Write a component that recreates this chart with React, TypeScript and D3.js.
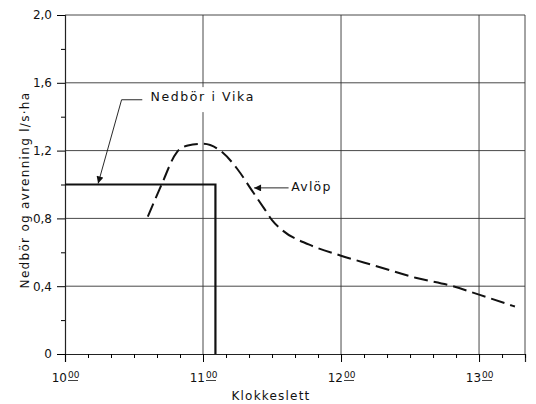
import React, { useEffect, useRef } from 'react';
import * as d3 from 'd3';

// hours (decimal) on the x axis
const hourTicks = [10, 11, 12, 13];
const minorHourTicks = d3.range(10, 13.34, 1 / 6);
const valueTicks = [0, 0.4, 0.8, 1.2, 1.6, 2.0];
const minorValueTicks = [0.2, 0.6, 1.0, 1.4, 1.8];

// precipitation (Nedbør i Vika), step series: 1.0 until 11:05, then 0
const rainTime = [10, 11.09, 11.09];
const rainValue = [1.0, 1.0, 0];

// runoff (Avløp), dashed curve
const runoffTime = [10.6, 10.7, 10.81, 10.89, 11.0, 11.14, 11.25, 11.35, 11.45, 11.5, 11.575, 11.77, 12.0, 12.25, 12.54, 12.81, 13.0, 13.26];
const runoffValue = [0.81, 1.0, 1.19, 1.23, 1.24, 1.19, 1.09, 0.97, 0.85, 0.79, 0.73, 0.645, 0.58, 0.52, 0.45, 0.4, 0.35, 0.28];

const FONT = 'DejaVu Sans, sans-serif';

const App = () => {
  const svgRef = useRef<SVGSVGElement>(null);

  useEffect(() => {
    const svg = d3.select(svgRef.current);
    svg.selectAll('*').remove();

    const x = d3.scaleLinear().domain([10, 13.333]).range([65, 525]);
    const y = d3.scaleLinear().domain([0, 2]).range([354, 15]);

    svg.append('rect').attr('width', 536).attr('height', 404).attr('fill', '#fff');

    // arrow marker
    svg.append('defs').append('marker')
      .attr('id', 'arrow')
      .attr('viewBox', '0 0 10 10')
      .attr('refX', 10).attr('refY', 5)
      .attr('markerWidth', 9).attr('markerHeight', 7)
      .attr('markerUnits', 'userSpaceOnUse')
      .attr('orient', 'auto')
      .append('path').attr('d', 'M0,0L10,5L0,10Z').attr('fill', '#111');

    // grid
    const grid = svg.append('g').attr('stroke', '#333').attr('stroke-width', 0.9);
    grid.selectAll('.h').data(valueTicks.filter(d => d > 0)).join('line')
      .attr('x1', x(10)).attr('x2', x(13.333))
      .attr('y1', d => y(d)).attr('y2', d => y(d));
    grid.selectAll('.v').data([11, 12, 13, 13.333]).join('line')
      .attr('x1', d => x(d)).attr('x2', d => x(d))
      .attr('y1', y(0)).attr('y2', y(2));

    // y axis
    const yAxis = svg.append('g').attr('transform', `translate(${x(10)},0)`)
      .call(d3.axisLeft(y).tickValues(valueTicks).tickSize(8).tickPadding(5)
        .tickFormat(d => (+d === 0 ? '0' : d3.format('.1f')(+d).replace('.', ','))));
    yAxis.select('.domain').attr('stroke', '#222').attr('stroke-width', 1.2);
    yAxis.selectAll('text').attr('font-family', FONT).attr('font-size', 12).attr('fill', '#111');
    svg.append('g').attr('transform', `translate(${x(10)},0)`)
      .call(d3.axisLeft(y).tickValues(minorValueTicks).tickSize(4).tickFormat(() => ''))
      .select('.domain').remove();

    // x axis
    const xAxis = svg.append('g').attr('transform', `translate(0,${y(0)})`)
      .call(d3.axisBottom(x).tickValues(hourTicks).tickSize(8).tickFormat(() => ''));
    xAxis.select('.domain').attr('stroke', '#222').attr('stroke-width', 1.2);
    svg.append('g').attr('transform', `translate(0,${y(0)})`)
      .call(d3.axisBottom(x).tickValues(minorHourTicks).tickSize(4).tickFormat(() => ''))
      .select('.domain').remove();

    const hourLabels = svg.append('g').attr('font-family', FONT).attr('fill', '#111');
    hourLabels.selectAll('.hr').data(hourTicks).join('text')
      .attr('x', d => x(d) + 2).attr('y', 382)
      .attr('text-anchor', 'end').attr('font-size', 12)
      .text(d => String(d));
    hourLabels.selectAll('.mn').data(hourTicks).join('text')
      .attr('x', d => x(d) + 3).attr('y', 378)
      .attr('font-size', 9)
      .text('00');
    hourLabels.selectAll('.ul').data(hourTicks).join('line')
      .attr('x1', d => x(d) + 3).attr('x2', d => x(d) + 13)
      .attr('y1', 380.5).attr('y2', 380.5)
      .attr('stroke', '#111').attr('stroke-width', 0.8);

    // axis titles
    svg.append('text')
      .attr('x', 271).attr('y', 400)
      .attr('text-anchor', 'middle')
      .attr('font-family', FONT).attr('font-size', 12).attr('letter-spacing', 1.2)
      .attr('fill', '#111')
      .text('Klokkeslett');
    svg.append('text')
      .attr('transform', 'translate(29,190) rotate(-90)')
      .attr('text-anchor', 'middle')
      .attr('font-family', FONT).attr('font-size', 12).attr('letter-spacing', 1.3)
      .attr('fill', '#111')
      .text('Nedbör og avrenning l/s·ha');

    // precipitation
    svg.append('path')
      .attr('d', d3.line<number>()
        .x((_, i) => x(rainTime[i]))
        .y((_, i) => y(rainValue[i]))(rainTime))
      .attr('fill', 'none').attr('stroke', '#111').attr('stroke-width', 2.2);

    // runoff
    svg.append('path')
      .attr('d', d3.line<number>()
        .x((_, i) => x(runoffTime[i]))
        .y((_, i) => y(runoffValue[i]))
        .curve(d3.curveMonotoneX)(runoffTime))
      .attr('fill', 'none').attr('stroke', '#111').attr('stroke-width', 2)
      .attr('stroke-dasharray', '14,6');

    // annotation: Nedbør i Vika
    svg.append('rect')
      .attr('x', x(10.6)).attr('y', y(1.61) + 6)
      .attr('width', 112).attr('height', 25).attr('fill', '#fff');
    svg.append('text')
      .attr('x', x(10.62)).attr('y', y(1.49))
      .attr('font-family', FONT).attr('font-size', 12.5).attr('letter-spacing', 1.6)
      .attr('fill', '#111')
      .text('Nedbör i Vika');
    svg.append('path')
      .attr('d', d3.line()([[x(10.56), y(1.5)], [x(10.41), y(1.5)], [x(10.24), y(1.0) - 1]]))
      .attr('fill', 'none').attr('stroke', '#111').attr('stroke-width', 0.9)
      .attr('marker-end', 'url(#arrow)');

    // annotation: Avløp
    svg.append('text')
      .attr('x', x(11.64)).attr('y', y(0.96))
      .attr('font-family', FONT).attr('font-size', 12.5).attr('letter-spacing', 1.2)
      .attr('fill', '#111')
      .text('Avlöp');
    svg.append('path')
      .attr('d', d3.line()([[x(11.62), y(0.98)], [x(11.37), y(0.98)]]))
      .attr('fill', 'none').attr('stroke', '#111').attr('stroke-width', 0.9)
      .attr('marker-end', 'url(#arrow)');
  }, []);

  return (
    <div style={{ position: 'absolute', left: 0, top: 0 }}>
      <svg ref={svgRef} width={536} height={404} style={{ display: 'block' }} />
    </div>
  );
};

export default App;
